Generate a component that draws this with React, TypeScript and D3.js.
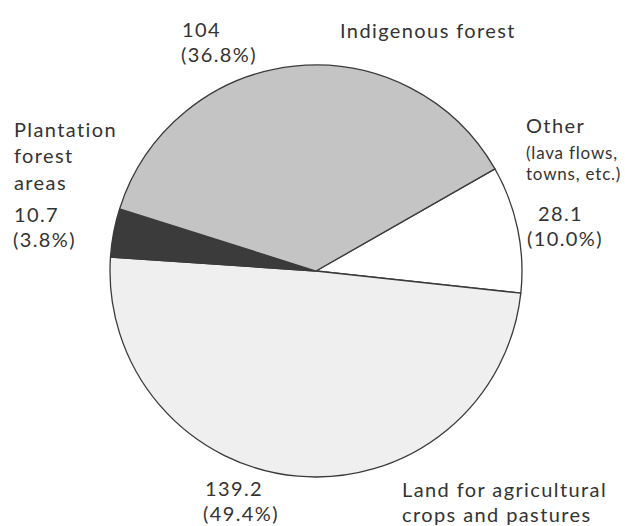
import React from "react";
import * as d3 from "d3";

const categories = ["Other", "Land for agricultural crops and pastures", "Plantation forest areas", "Indigenous forest"];
const values = [28.1, 139.2, 10.7, 104];
const percents = ["10.0%", "49.4%", "3.8%", "36.8%"];
const fills = ["#ffffff", "#efefef", "#3b3b3b", "#c4c4c4"];

const W = 625;
const H = 526;
const cx = 316;
const cy = 271;
const R = 206;
const startDeg = 60.3;

export default function App() {
  const pie = d3
    .pie<number>()
    .sort(null)
    .value((d) => d)
    .startAngle((startDeg * Math.PI) / 180)
    .endAngle((startDeg * Math.PI) / 180 + 2 * Math.PI);
  const arcs = pie(values);
  const arc = d3.arc<d3.PieArcDatum<number>>().innerRadius(0).outerRadius(R);
  const font = "Lato, 'Open Sans', sans-serif";
  const tc = "#333";
  const fs = 20;
  const ls = 1.4;
  const sfs = 17;
  const sls = 0.8;
  return (
    <svg
      width={W}
      height={H}
      style={{ position: "absolute", left: 0, top: 0, background: "#fff" }}
      fontFamily={font}
    >
      <g transform={`translate(${cx},${cy})`}>
        {arcs.map((a, i) => (
          <path
            key={categories[i]}
            d={arc(a) || ""}
            fill={fills[i]}
            stroke="#3a3a3a"
            strokeWidth={1.3}
            strokeLinejoin="round"
          />
        ))}
      </g>
      <g fill={tc} fontSize={fs} letterSpacing={ls}>
        {/* Indigenous forest */}
        <text x={182} y={37}>{String(values[3])}</text>
        <text x={181} y={62}>({percents[3]})</text>
        <text x={340} y={38}>Indigenous forest</text>
        {/* Plantation */}
        <text x={14} y={137}>Plantation</text>
        <text x={14} y={163}>forest</text>
        <text x={14} y={190}>areas</text>
        <text x={14} y={222}>{String(values[2])}</text>
        <text x={13} y={247}>({percents[2]})</text>
        {/* Other */}
        <text x={526} y={133}>Other</text>
        <text x={526} y={159} fontSize={sfs} letterSpacing={sls}>(lava flows,</text>
        <text x={526} y={180} fontSize={sfs} letterSpacing={sls}>towns, etc.)</text>
        <text x={538} y={221}>{String(values[0])}</text>
        <text x={527} y={246}>({percents[0]})</text>
        {/* Agricultural */}
        <text x={205} y={496}>{String(values[1])}</text>
        <text x={203} y={521}>({percents[1]})</text>
        <text x={402} y={497}>Land for agricultural</text>
        <text x={402} y={521.5}>crops and pastures</text>
      </g>
    </svg>
  );
}
